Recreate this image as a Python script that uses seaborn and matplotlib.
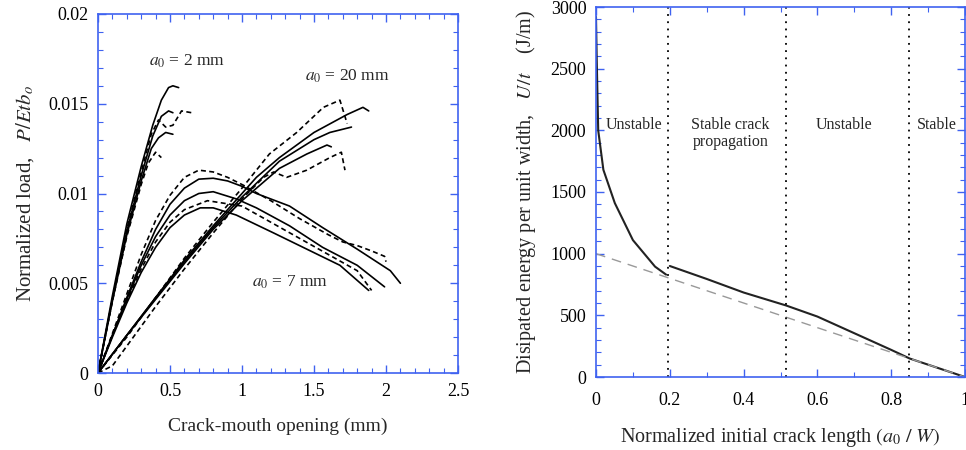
import numpy as np
import pandas as pd
import matplotlib
matplotlib.use("Agg")
import matplotlib.pyplot as plt
from matplotlib.ticker import MultipleLocator, FuncFormatter
import seaborn as sns

# ---------------- data: left panel (load vs CMOD) ----------------
# a0 = 2 mm specimens
x2a = [0, 0.1, 0.2, 0.3, 0.38, 0.44, 0.49, 0.52, 0.56]
y2a = [0, 0.0043, 0.0083, 0.0115, 0.0138, 0.0152, 0.0159, 0.0160, 0.0159]
x2b = [0, 0.1, 0.2, 0.3, 0.37, 0.42, 0.47, 0.52, 0.58, 0.65]
y2b = [0, 0.0041, 0.0080, 0.0112, 0.0133, 0.0141, 0.0137, 0.0138, 0.0146, 0.0145]
x2c = [0, 0.1, 0.2, 0.3, 0.38, 0.44, 0.49, 0.52]
y2c = [0, 0.0041, 0.0079, 0.0110, 0.0132, 0.0143, 0.0146, 0.0145]
x2d = [0, 0.1, 0.2, 0.3, 0.37, 0.42, 0.47, 0.52]
y2d = [0, 0.0040, 0.0077, 0.0107, 0.0125, 0.0131, 0.0134, 0.0133]
x2e = [0, 0.1, 0.2, 0.3, 0.35, 0.40, 0.44]
y2e = [0, 0.0040, 0.0076, 0.0105, 0.0117, 0.0123, 0.0120]

# a0 = 7 mm specimens
x7a = [0, 0.1, 0.2, 0.3, 0.4, 0.5, 0.6, 0.7, 0.8, 0.9, 1.0, 1.1, 1.33, 1.56, 1.8, 2.03, 2.1]
y7a = [0, 0.0021, 0.0042, 0.0062, 0.0080, 0.0094, 0.0103, 0.0108, 0.01085, 0.0107, 0.0104, 0.0100, 0.0093, 0.0081, 0.0069, 0.0057, 0.0050]
x7b = [0, 0.1, 0.2, 0.3, 0.4, 0.5, 0.6, 0.7, 0.8, 0.9, 1.0, 1.2, 1.4, 1.6, 1.7, 1.8, 1.9, 1.99, 2.0]
y7b = [0, 0.0022, 0.0044, 0.0066, 0.0085, 0.0099, 0.0109, 0.0113, 0.0112, 0.0109, 0.0105, 0.0096, 0.0086, 0.0077, 0.0073, 0.0071, 0.0068, 0.0065, 0.0062]
x7c = [0, 0.1, 0.2, 0.3, 0.4, 0.5, 0.6, 0.7, 0.8, 0.96, 1.1, 1.33, 1.56, 1.8, 1.99]
y7c = [0, 0.0021, 0.0041, 0.0060, 0.0076, 0.0088, 0.0096, 0.0100, 0.0101, 0.0097, 0.0092, 0.0082, 0.0070, 0.0060, 0.0048]
x7d = [0, 0.1, 0.2, 0.3, 0.4, 0.5, 0.6, 0.76, 1.0, 1.2, 1.4, 1.6, 1.8, 1.9]
y7d = [0, 0.0021, 0.0040, 0.0058, 0.0073, 0.0084, 0.0091, 0.0096, 0.0093, 0.0084, 0.0075, 0.0066, 0.0057, 0.0046]
x7e = [0, 0.1, 0.2, 0.3, 0.4, 0.5, 0.6, 0.71, 0.8, 0.96, 1.22, 1.45, 1.68, 1.88]
y7e = [0, 0.0020, 0.0039, 0.0056, 0.0070, 0.0081, 0.0088, 0.0092, 0.0092, 0.0088, 0.0078, 0.0069, 0.0060, 0.0046]

# a0 = 20 mm specimens
x20a = [0, 0.2, 0.4, 0.6, 0.8, 1.0, 1.1, 1.26, 1.5, 1.73, 1.84, 1.88]
y20a = [0, 0.0021, 0.0042, 0.0063, 0.0082, 0.0100, 0.0109, 0.0120, 0.0134, 0.0144, 0.0148, 0.0146]
x20b = [0, 0.2, 0.4, 0.6, 0.8, 1.0, 1.19, 1.38, 1.565, 1.68, 1.73]
y20b = [0, 0.0020, 0.0042, 0.0064, 0.0084, 0.0103, 0.0122, 0.0134, 0.0148, 0.0152, 0.0139]
x20c = [0, 0.2, 0.4, 0.6, 0.8, 1.0, 1.26, 1.5, 1.61, 1.76]
y20c = [0, 0.0021, 0.0042, 0.0062, 0.0081, 0.0098, 0.0118, 0.0130, 0.0134, 0.0137]
x20d = [0, 0.2, 0.4, 0.6, 0.8, 1.0, 1.26, 1.45, 1.59, 1.62]
y20d = [0, 0.0021, 0.0041, 0.0061, 0.0080, 0.0096, 0.0114, 0.0122, 0.0127, 0.0126]
x20e = [0, 0.1, 0.2, 0.4, 0.6, 0.8, 1.0, 1.15, 1.22, 1.31, 1.45, 1.61, 1.69, 1.715]
y20e = [0, 0.0004, 0.0015, 0.0037, 0.0058, 0.0078, 0.0097, 0.0109, 0.0112, 0.0109, 0.0113, 0.0120, 0.0123, 0.0113]

# ---------------- data: right panel (energy vs a0/W) ----------------
aw_unstable1 = [0.0, 0.002, 0.006, 0.02, 0.051, 0.10, 0.16, 0.19]
u_unstable1 = [2920, 2570, 2000, 1680, 1410, 1110, 895, 830]
aw_rest = [0.2, 0.3, 0.4, 0.515, 0.6, 0.7, 0.8, 0.85, 1.0]
u_rest = [900, 795, 685, 580, 490, 355, 220, 150, 0]
aw_ref = [0.0, 1.0]
u_ref = [1000, 0]
boundaries = [0.194, 0.514, 0.849]
region_names = ["Unstable", "Stable crack\npropagation", "Unstable", "Stable"]
region_x = [0.103, 0.365, 0.672, 0.923]

# ---------------- style ----------------
sns.set_theme(style="white")
plt.rcParams["font.family"] = ["Liberation Serif", "DejaVu Serif"]
plt.rcParams["mathtext.fontset"] = "stix"
BLUE = "#3f62f0"

fig = plt.figure(figsize=(9.66, 4.5), dpi=100)
ax1 = fig.add_axes([98 / 966, 77 / 450, 360 / 966, 359 / 450])
ax2 = fig.add_axes([596 / 966, 73 / 450, 369 / 966, 370 / 450])

left_curves = [
    (x2a, y2a, "-"), (x2b, y2b, "--"), (x2c, y2c, "-"), (x2d, y2d, "-"), (x2e, y2e, "--"),
    (x7a, y7a, "-"), (x7b, y7b, "--"), (x7c, y7c, "-"), (x7d, y7d, "--"), (x7e, y7e, "-"),
    (x20a, y20a, "-"), (x20b, y20b, "--"), (x20c, y20c, "-"), (x20d, y20d, "-"), (x20e, y20e, "--"),
]
for xs, ys, ls in left_curves:
    sns.lineplot(x=xs, y=ys, ax=ax1, color="black", lw=1.2, sort=False, estimator=None)
    line = ax1.lines[-1]
    line.set_linestyle(ls)
    if ls == "--":
        line.set_dashes((3, 2))

ax1.set_xlim(0, 2.5)
ax1.set_ylim(0, 0.02)
ax1.xaxis.set_major_locator(MultipleLocator(0.5))
ax1.xaxis.set_minor_locator(MultipleLocator(0.1))
ax1.yaxis.set_major_locator(MultipleLocator(0.005))
ax1.yaxis.set_minor_locator(MultipleLocator(0.001))
fmt = FuncFormatter(lambda v, p: "%g" % round(v, 6))
ax1.xaxis.set_major_formatter(fmt)
ax1.yaxis.set_major_formatter(fmt)
ax1.set_xlabel("Crack-mouth opening (mm)", fontsize=14, labelpad=13)
ax1.set_ylabel(r"Normalized load,   $P/Etb_{\mathit{o}}$", fontsize=15, labelpad=9)
ax1.text(0.356, 0.0171, r"$a_{\mathit{0}}$ = 2 mm", fontsize=12.5)
ax1.text(1.44, 0.0163, r"$a_{\mathit{0}}$ = 20 mm", fontsize=12.5)
ax1.text(1.067, 0.0048, r"$a_{\mathit{0}}$ = 7 mm", fontsize=12.5)

# right panel
sns.lineplot(x=aw_unstable1, y=u_unstable1, ax=ax2, color="#222222", lw=1.5, sort=False, estimator=None)
sns.lineplot(x=aw_rest, y=u_rest, ax=ax2, color="#222222", lw=1.5, sort=False, estimator=None)
sns.lineplot(x=aw_ref, y=u_ref, ax=ax2, color="#999999", lw=1.0, sort=False, estimator=None)
ax2.lines[-1].set_dashes((7, 5))
for b in boundaries:
    ax2.axvline(b, color="black", lw=1.3, linestyle=(0, (1, 3)))
for nm, xp in zip(region_names, region_x):
    ax2.text(xp, 2110, nm, ha="center", va="top", fontsize=11.5, linespacing=1.1)

ax2.set_xlim(0, 1)
ax2.set_ylim(0, 3000)
ax2.xaxis.set_major_locator(MultipleLocator(0.2))
ax2.xaxis.set_minor_locator(MultipleLocator(0.1))
ax2.yaxis.set_major_locator(MultipleLocator(500))
ax2.yaxis.set_minor_locator(MultipleLocator(100))
ax2.xaxis.set_major_formatter(fmt)
ax2.set_xlabel(r"Normalized initial crack length $(a_{\mathit{0}}\ /\ W)$", fontsize=14.5, labelpad=12)
ax2.set_ylabel(r"Disipated energy per unit width,   $U/t$    (J/m)", fontsize=14.5, labelpad=9)

for ax in (ax1, ax2):
    for s in ax.spines.values():
        s.set_color(BLUE)
        s.set_linewidth(1.2)
        s.set_visible(True)
    ax.tick_params(which="both", direction="in", top=True, right=True, bottom=True, left=True,
                   color=BLUE, labelcolor="black", labelsize=13, pad=7)
    ax.tick_params(which="major", length=6, width=1.0)
    ax.tick_params(which="minor", length=3.5, width=0.8)
    ax.grid(False)
ax2.tick_params(axis="x", which="both", pad=11)

fig.savefig("out.png", dpi=100, facecolor="white")
